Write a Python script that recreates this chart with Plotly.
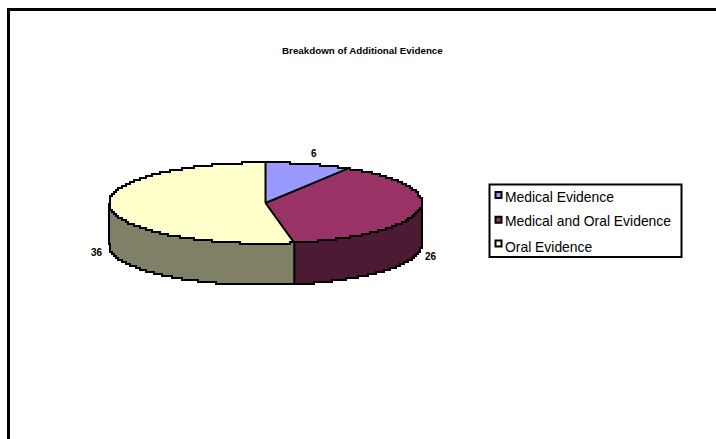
import numpy as np
import plotly.graph_objects as go

# Chart content
title = "Breakdown of Additional Evidence"
categories = ["Medical Evidence", "Medical and Oral Evidence", "Oral Evidence"]
values = [6, 26, 36]
top_colors = ["#9999FF", "#993366", "#FFFFCC"]
wall_colors = ["#4C4C80", "#4C1A33", "#808066"]

# Pixel-based drawing space and the tilted disc's geometry
W, H = 716, 439
CX, CY, RX, RY, DEPTH = 265.5, 203, 156.5, 40.5, 41.5
GRID = 2.0
EDGE = dict(color="black", width=2)


def rim(a0, a1, dy=0.0, n=None):
    """Points on the disc's rim between two clockwise angles measured from 12 o'clock."""
    n = n or max(3, int(abs(a1 - a0) * 2))
    t = np.radians(np.linspace(a0, a1, n))
    return CX + RX * np.sin(t), CY - RY * np.cos(t) + dy


def add_stepped_rim(fig, a0, a1, dy=0.0):
    """Outline a rim arc on a coarse pixel grid, giving it a stair-stepped edge."""
    x, y = rim(a0, a1, dy)
    fig.add_trace(go.Scatter(
        x=np.round(x / GRID) * GRID, y=np.round(y / GRID) * GRID,
        mode="lines", line=dict(shape="hv", **EDGE),
        hoverinfo="skip", showlegend=False,
    ))


def add_edge(fig, xs, ys):
    fig.add_trace(go.Scatter(
        x=xs, y=ys, mode="lines", line=EDGE, hoverinfo="skip", showlegend=False,
    ))


fig = go.Figure()

fractions = np.cumsum([0] + values) / sum(values) * 360.0
spans = list(zip(fractions[:-1], fractions[1:]))
FILL_EDGE = dict(width=0)

# Side walls: only the front half of the rim (90 to 270 degrees) is visible
for (a0, a1), wall in zip(spans, wall_colors):
    lo, hi = max(a0, 90.0), min(a1, 270.0)
    if hi <= lo:
        continue
    xt, yt = rim(lo, hi)
    xb, yb = rim(hi, lo, DEPTH)
    fig.add_trace(go.Scatter(
        x=np.r_[xt, xb, xt[0]], y=np.r_[yt, yb, yt[0]],
        mode="lines", fill="toself", fillcolor=wall, line=FILL_EDGE,
        hoverinfo="skip", showlegend=False,
    ))

# Top face of each slice
for (a0, a1), color, name in zip(spans, top_colors, categories):
    x, y = rim(a0, a1)
    fig.add_trace(go.Scatter(
        x=np.r_[CX, x, CX], y=np.r_[CY, y, CY],
        mode="lines", fill="toself", fillcolor=color, line=FILL_EDGE,
        name=name, showlegend=False,
    ))

# Outlines: stepped rims, then straight radial and vertical edges
add_stepped_rim(fig, 0, 360)
add_stepped_rim(fig, 90, 270, DEPTH)
for angle in (90.0, 270.0):
    x, y = rim(angle, angle, n=2)
    add_edge(fig, [x[0], x[0]], [y[0], y[0] + DEPTH])
for angle in fractions[:-1]:
    x, y = rim(angle, angle, n=2)
    add_edge(fig, [CX, x[0]], [CY, y[0]])
    if 90.0 < angle < 270.0:
        add_edge(fig, [x[0], x[0]], [y[0], y[0] + DEPTH])

# Key swatches
fig.add_trace(go.Scatter(
    x=[498.5] * 3, y=[195, 219.7, 243.5], mode="markers",
    marker=dict(symbol="square", size=6, color=top_colors, line=dict(color="black", width=2)),
    hoverinfo="skip", showlegend=False,
))

annotations = [
    dict(x=362.5, y=50, text=f"<b>{title}</b>", font=dict(size=9.8)),
    dict(x=314, y=153, text=f"<b>{values[0]}</b>", font=dict(size=10)),
    dict(x=431, y=256, text=f"<b>{values[1]}</b>", font=dict(size=10)),
    dict(x=97, y=252, text=f"<b>{values[2]}</b>", font=dict(size=10)),
]
for name, y in zip(categories, [196.5, 220.5, 246.5]):
    annotations.append(dict(x=503, y=y, text=name, xanchor="left", font=dict(size=13.9)))

shapes = [
    dict(type="line", x0=8.5, x1=8.5, y0=9, y1=H, line=dict(color="black", width=3)),
    dict(type="line", x0=7, x1=W, y0=9.5, y1=9.5, line=dict(color="black", width=3)),
    dict(type="rect", x0=489.5, x1=681.5, y0=184.5, y1=257, line=dict(color="black", width=2)),
]

fig.update_layout(
    width=W, height=H, margin=dict(l=0, r=0, t=0, b=0),
    paper_bgcolor="white", plot_bgcolor="white",
    font=dict(family="Liberation Sans, Arial, sans-serif", color="black"),
    xaxis=dict(range=[0, W], visible=False, fixedrange=True),
    yaxis=dict(range=[H, 0], visible=False, fixedrange=True),
    annotations=[dict(a, showarrow=False, xref="x", yref="y") for a in annotations],
    shapes=shapes,
)

fig.write_html("out.html", config=dict(displayModeBar=False))
